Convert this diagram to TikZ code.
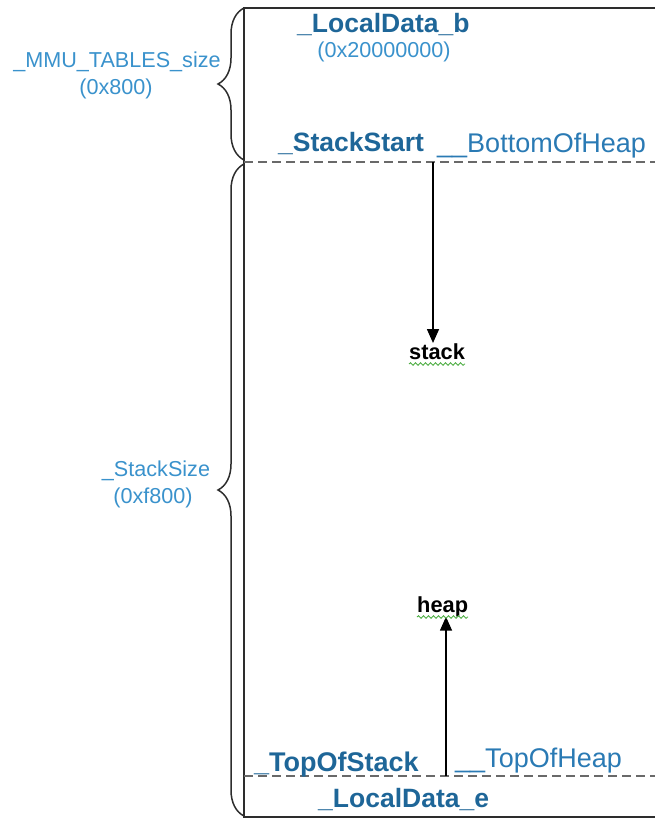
\documentclass[tikz,border=0pt]{standalone}
\usepackage{fontspec}
\setmainfont{Liberation Sans}
\usetikzlibrary{decorations.pathreplacing,decorations.pathmorphing,arrows.meta}
\definecolor{labdark}{RGB}{30,102,152}
\definecolor{labmid}{RGB}{42,122,180}
\definecolor{lablight}{RGB}{58,146,204}
\definecolor{frame}{RGB}{45,45,45}
\definecolor{dashgray}{RGB}{105,105,105}
\definecolor{spellgreen}{RGB}{80,175,70}
\tikzset{
  symbig/.style={inner sep=0pt, anchor=base west, text=labmid,
    font=\fontsize{27}{30}\selectfont},
  symbold/.style={inner sep=0pt, anchor=base west, text=labdark,
    font=\fontsize{26.5}{30}\selectfont\bfseries},
  symsmall/.style={inner sep=0pt, anchor=base, text=lablight,
    font=\fontsize{21.6}{24}\selectfont},
  regionword/.style={inner sep=0pt, anchor=base west, text=black,
    font=\fontsize{21.8}{24}\selectfont\bfseries},
  boxline/.style={draw=frame, line width=2pt},
  boundary/.style={draw=dashgray, line width=2.2pt, dash pattern=on 9pt off 5pt},
  sizebrace/.style={draw=frame, line width=1.5pt,
    decorate, decoration={brace, amplitude=26pt}},
  growth/.style={draw=black, line width=1.6pt, -{Triangle[length=14pt,width=12pt]}},
  spell/.style={draw=spellgreen, line width=0.9pt,
    decorate, decoration={snake, amplitude=1.3pt, segment length=5pt}}
}
\begin{document}
\begin{tikzpicture}[x=1pt,y=-1pt]
\useasboundingbox (0,0) rectangle (655,819);

% memory region frame (open on the right)
\coordinate (tl) at (244,8);
\coordinate (tr) at (660,8);
\coordinate (bl) at (244,817);
\coordinate (br) at (660,817);
\draw[boxline] (tr) -- (tl) -- (bl) -- (br);

% region boundaries
\coordinate (ssl) at (244,162);
\coordinate (ssr) at (660,162);
\coordinate (tsl) at (244,776);
\coordinate (tsr) at (660,776);
\draw[boundary] (ssl) -- (ssr);
\draw[boundary] (tsl) -- (tsr);

% symbols
\node[symbold] (ldb) at (297,32) {\_LocalData\_b};
\node[symsmall] (ldbaddr) at (384,57) {(0x20000000)};
\node[symbold] (sstart) at (278,151) {\_StackStart};
\node[symbig] (boh) at (437,152) {\_\_BottomOfHeap};
\node[symbold, font=\fontsize{27}{30}\selectfont\bfseries] (tos) at (254,771) {\_TopOfStack};
\node[symbig] (toh) at (455,767) {\_\_TopOfHeap};
\node[symbold] (lde) at (318,807) {\_LocalData\_e};

% sizes
\draw[sizebrace] (244,160) -- (244,8);
\node[symsmall] (mmu) at (117,67) {\_MMU\_TABLES\_size};
\node[symsmall] (mmusz) at (116,94) {(0x800)};
\draw[sizebrace] (244,816) -- (244,164);
\node[symsmall] (ssz) at (156,476) {\_StackSize};
\node[symsmall] (sszv) at (153,503) {(0xf800)};

% stack grows down, heap grows up
\node[regionword] (stack) at (409,359) {stack};
\node[regionword] (heap) at (417,612) {heap};
\coordinate (stacktop) at (433,162);
\coordinate (heapbase) at (446,776);
\draw[growth] (stacktop) -- (stacktop |- stack.north);
\draw[growth] (heapbase) -- (heapbase |- heap.south);

% spelling marks under the region words
\coordinate (sw1) at (409,364);
\coordinate (sw2) at (465,364);
\coordinate (hw1) at (417,617);
\coordinate (hw2) at (468,617);
\draw[spell] (sw1) -- (sw2);
\draw[spell] (hw1) -- (hw2);
\end{tikzpicture}
\end{document}
